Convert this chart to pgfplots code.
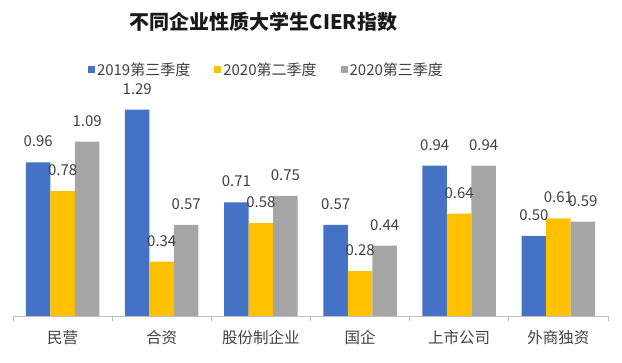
\documentclass[border=0pt]{standalone}
\usepackage{fontspec}
\setmainfont{Noto Sans CJK SC}
\usepackage{pgfplots}
\pgfplotsset{compat=1.18}
\definecolor{cblue}{HTML}{4472C4}
\definecolor{cgold}{HTML}{FFC000}
\definecolor{cgray}{HTML}{A5A5A5}
\definecolor{ctext}{HTML}{404040}
\definecolor{caxis}{HTML}{BFBFBF}
\begin{document}
\begin{tikzpicture}
\useasboundingbox (0,0) rectangle (622pt,363pt);
\node[font=\fontsize{20}{22}\selectfont\bfseries, text=black!90] at (263.5pt,341pt) {不同企业性质大学生CIER指数};
\begin{axis}[
  at={(13pt,47pt)}, anchor=south west,
  scale only axis, width=595pt, height=240pt,
  ymin=0, ymax=1.5,
  xmin=-0.5, xmax=5.5,
  clip=false,
  ybar=0pt, bar width=24.5pt,
  axis y line=none,
  axis x line*=bottom,
  x axis line style={caxis, line width=0.8pt},
  xtick={0,1,2,3,4,5},
  xticklabels={民营,合资,股份制企业,国企,上市公司,外商独资},
  xticklabel style={font=\fontsize{15.5}{17}\selectfont, text=ctext, anchor=north, yshift=-11pt},
  major tick length=0pt,
  extra x ticks={-0.5,0.5,1.5,2.5,3.5,4.5,5.5},
  extra x tick labels={},
  extra x tick style={major tick length=5pt, tick align=outside, tick style={caxis, line width=0.8pt}},
  nodes near coords,
  every node near coord/.append style={font=\fontsize{15}{17}\selectfont, text=ctext, anchor=south, inner sep=0pt, yshift=15pt},
  /pgf/number format/.cd, fixed, fixed zerofill, precision=2, assume math mode=true,
  /pgfplots/.cd,
  legend columns=3,
  legend style={at={(0.426,1.025)}, anchor=center, draw=none, fill=none,
    font=\fontsize{15}{17}\selectfont, text=ctext,
    /tikz/every even column/.append style={column sep=22pt}},
  legend image code/.code={\fill[#1] (1pt,-3.5pt) rectangle (8pt,3.5pt);},
]
\addplot[fill=cblue, draw=none] coordinates {(0,0.96) (1,1.29) (2,0.71) (3,0.57) (4,0.94) (5,0.50)};
\addplot[fill=cgold, draw=none] coordinates {(0,0.78) (1,0.34) (2,0.58) (3,0.28) (4,0.64) (5,0.61)};
\addplot[fill=cgray, draw=none] coordinates {(0,1.09) (1,0.57) (2,0.75) (3,0.44) (4,0.94) (5,0.59)};
\legend{2019第三季度,2020第二季度,2020第三季度}
\end{axis}
\end{tikzpicture}
\end{document}
